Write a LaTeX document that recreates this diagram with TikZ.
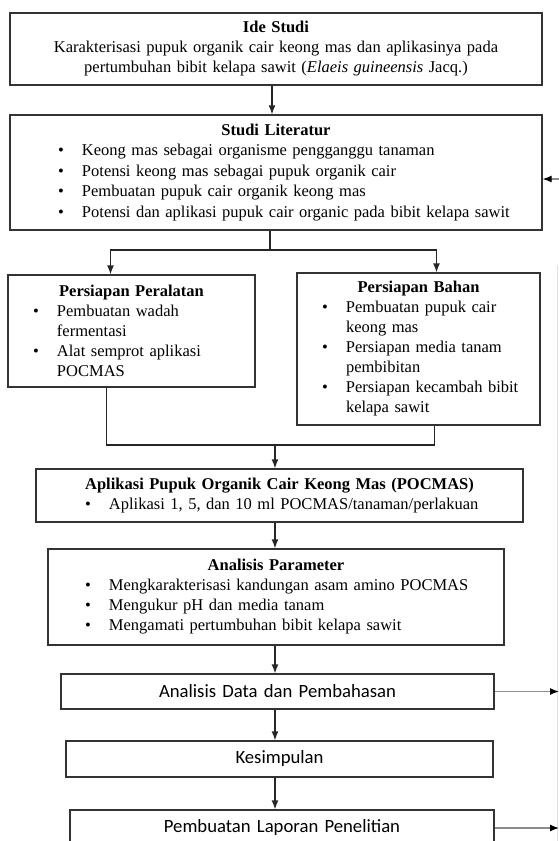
\documentclass[tikz,border=0pt]{standalone}
\usepackage{fontspec}
\setmainfont{Liberation Serif}
\newfontfamily\calib{Carlito}
\usetikzlibrary{arrows.meta,calc}

\newcommand{\bul}[2]{\par\noindent\hangindent=\dimexpr#1+24pt\relax\hangafter=1\hspace*{#1}\makebox[24pt][l]{\textbullet}#2\par}
\newcommand{\nl}{\hfil\break}

\begin{document}
\begin{tikzpicture}[x=1pt, y=-1pt,
box/.style={draw=black!80, line width=1.3pt, inner xsep=0pt, inner ysep=0pt, align=left,
  font=\fontsize{16.5}{20}\selectfont},
sbox/.style={box, align=center, font=\calib\fontsize{18.7}{20}\selectfont},
line/.style={draw=black!85, line width=1.3pt},
arr/.style={line, -{Latex[length=9pt,width=7pt]}},
sidearr/.style={draw=black!45, line width=1.3pt, -{Latex[length=9pt,width=7pt,color=black]}}]

\useasboundingbox (0,0) rectangle (559,841);
\clip (0,0) rectangle (559,841);

%idea and literature
\node[box, align=center, text width=532pt, minimum height=72pt] (ide) at (276,49)
  {\textbf{Ide Studi}\\Karakterisasi pupuk organik cair keong mas dan aplikasinya pada\\
   pertumbuhan bibit kelapa sawit (\textit{Elaeis guineensis} Jacq.)};
\node[box, text width=532pt, minimum height=115pt, font=\fontsize{16.5}{20.5}\selectfont] (lit) at (276,172.5)
  {\centerline{\textbf{Studi Literatur}}
   \bul{48pt}{Keong mas sebagai organisme pengganggu tanaman}
   \bul{48pt}{Potensi keong mas sebagai pupuk organik cair}
   \bul{48pt}{Pembuatan pupuk cair organik keong mas}
   \bul{48pt}{Potensi dan aplikasi pupuk cair organic pada bibit kelapa sawit}};

%preparation
\node[box, text width=247pt, minimum height=112pt] (alat) at (131.5,331)
  {\centerline{\textbf{Persiapan Peralatan}}
   \bul{25pt}{Pembuatan wadah\nl fermentasi}
   \bul{25pt}{Alat semprot aplikasi\nl POCMAS}};
\node[box, text width=243pt, minimum height=152pt] (bahan) at (418.5,349)
  {\centerline{\textbf{Persiapan Bahan}}
   \bul{25pt}{Pembuatan pupuk cair\nl keong mas}
   \bul{25pt}{Persiapan media tanam\nl pembibitan}
   \bul{25pt}{Persiapan kecambah bibit\nl kelapa sawit}};

%application and parameters
\node[box, text width=487pt, minimum height=53pt] (apl) at (279.5,495.5)
  {\centerline{\textbf{Aplikasi Pupuk Organik Cair Keong Mas (POCMAS)}}
   \bul{49pt}{Aplikasi 1, 5, dan 10 ml POCMAS/tanaman/perlakuan}};
\node[box, text width=456pt, minimum height=96pt] (par) at (276,597)
  {\centerline{\textbf{Analisis Parameter}}
   \bul{37pt}{Mengkarakterisasi kandungan asam amino POCMAS}
   \bul{37pt}{Mengukur pH dan media tanam}
   \bul{37pt}{Mengamati pertumbuhan bibit kelapa sawit}};

%final steps
\node[sbox, text width=433pt, minimum height=35pt] (data) at (277.5,691.5) {Analisis Data dan Pembahasan};
\node[sbox, text width=427pt, minimum height=36pt] (simp) at (279.5,759) {Kesimpulan};
\node[sbox, text width=424pt, minimum height=36pt] (lap) at (282,828) {Pembuatan Laporan Penelitian};

\coordinate (split) at (270,250);
\coordinate (merge) at (275,445);
\coordinate (spine) at (275,0);
\coordinate (rim) at (559,0);
\coordinate (back) at ([yshift=-6.5pt]lit.east);
\coordinate (rtop) at (557.5,265);
\coordinate (rbot) at (557.5,841);

%connectors
\draw[arr] ([xshift=-4pt]ide.south) -- ([xshift=-4pt]lit.north);
\draw[line] (lit.south -| split) -- (split);
\draw[arr] (split) -| ([xshift=-21pt]alat.north);
\draw[arr] (split) -| ([xshift=18pt]bahan.north);
\draw[line] ([xshift=-25pt]alat.south) |- (merge);
\draw[line] ([xshift=16pt]bahan.south) |- (merge);
\draw[arr] (merge) -- (merge |- apl.north);
\draw[arr] (apl.south -| spine) -- (par.north -| spine);
\draw[arr] (par.south -| spine) -- (data.north -| spine);
\draw[arr] (data.south -| spine) -- (simp.north -| spine);
\draw[arr] (simp.south -| spine) -- (lap.north -| spine);

%side arrows
\draw[black!12, line width=0.8pt] (rtop) -- (rbot);
\draw[sidearr] (back -| rim) -- (back);
\draw[sidearr] (data.east) -- (data.east -| rim);
\draw[sidearr] (lap.east) -- (lap.east -| rim);
\end{tikzpicture}
\end{document}
